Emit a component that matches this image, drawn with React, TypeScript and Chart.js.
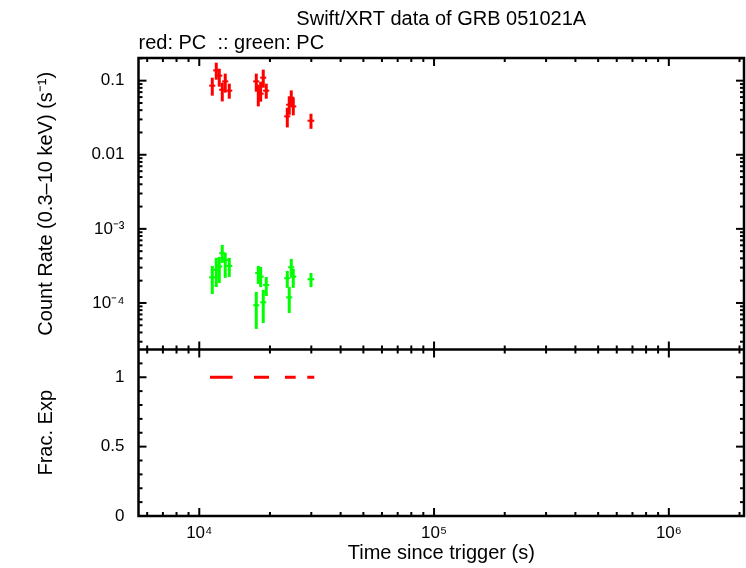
import { useEffect, useRef } from 'react';
import { Chart, registerables } from 'chart.js';

Chart.register(...registerables);

const chartTitle = 'Swift/XRT data of GRB 051021A';
const chartSubtitle = 'red: PC  :: green: PC';
const xTitle = 'Time since trigger (s)';
const yTopTitle = 'Count Rate (0.3–10 keV) (s⁻¹)';
const yBottomTitle = 'Frac. Exp';

const xTickValues = [1e4, 1e5, 1e6];
const xTickLabels = ['10⁴', '10⁵', '10⁶'];
const yTopTickValues = [1e-4, 1e-3, 0.01, 0.1];
const yTopTickLabels = ['10⁻⁴', '10⁻³', '0.01', '0.1'];
const yBottomTickValues = [0, 0.5, 1];
const yBottomTickLabels = ['0', '0.5', '1'];

const xRange = [5510, 2.09e6];
const yTopRange = [2.355e-5, 0.2023];
const yBottomRange = [0, 1.2];

// time bins (s) and half-widths
const binTime = [11360, 11815, 12167, 12530, 12900, 13420, 17490, 17840, 18260, 18730, 19290, 23710, 24170, 24650, 25140, 29910];
const binTimeErr = [340, 355, 365, 375, 385, 400, 525, 535, 550, 560, 580, 710, 725, 740, 755, 990];

// red: PC
const redRate = [0.0856, 0.1377, 0.117, 0.0755, 0.0978, 0.0733, 0.0978, 0.0755, 0.0667, 0.1097, 0.0733, 0.033, 0.0474, 0.0589, 0.045, 0.0288];
const redRateLo = [0.0627, 0.1031, 0.083, 0.0525, 0.0689, 0.0571, 0.071, 0.045, 0.052, 0.0804, 0.0571, 0.0234, 0.0347, 0.045, 0.034, 0.0224];
const redRateHi = [0.1097, 0.175, 0.145, 0.094, 0.1245, 0.0911, 0.1245, 0.0883, 0.0969, 0.141, 0.0911, 0.0431, 0.0614, 0.074, 0.0589, 0.0358];

// green: PC
const greenRate = [2.22e-4, 2.79e-4, 3.1e-4, 4.7e-4, 3.81e-4, 3.16e-4, 9.31e-5, 2.54e-4, 2.26e-4, 1.02e-4, 1.75e-4, 2.16e-4, 1.19e-4, 3.03e-4, 2.26e-4, 2.09e-4];
const greenRateLo = [1.32e-4, 1.64e-4, 1.86e-4, 3.47e-4, 2.18e-4, 2.24e-4, 4.46e-5, 1.81e-4, 1.64e-4, 5.37e-5, 1.24e-4, 1.6e-4, 7.33e-5, 2.32e-4, 1.6e-4, 1.64e-4];
const greenRateHi = [3.16e-4, 4.06e-4, 4.19e-4, 6.08e-4, 4.74e-4, 4.06e-4, 1.41e-4, 3.16e-4, 3.06e-4, 1.5e-4, 2.24e-4, 2.7e-4, 1.64e-4, 3.93e-4, 2.88e-4, 2.54e-4];

// fractional exposure
const fracStart = [11110, 17100, 23170, 28840];
const fracEnd = [13870, 19810, 25740, 30890];
const fracValue = [1, 1, 1, 1];

const FONT = "'Liberation Sans', Arial, sans-serif";

const errorBarPlugin = {
  id: 'errorBars',
  afterDatasetsDraw(chart: any) {
    const ctx = chart.ctx;
    const xs = chart.scales.x;
    chart.data.datasets.forEach((ds: any) => {
      const ys = chart.scales[ds.yAxisID];
      ctx.save();
      ctx.strokeStyle = ds.borderColor;
      ctx.lineCap = 'butt';
      ds.data.forEach((p: any) => {
        const y = ys.getPixelForValue(p.y);
        const x0 = xs.getPixelForValue(p.xMin);
        const x1 = xs.getPixelForValue(p.xMax);
        ctx.lineWidth = ds.hWidth;
        ctx.beginPath();
        ctx.moveTo(x0, y);
        ctx.lineTo(x1, y);
        ctx.stroke();
        if (p.yMin != null) {
          const x = xs.getPixelForValue(p.x);
          ctx.lineWidth = 3;
          ctx.beginPath();
          ctx.moveTo(x, ys.getPixelForValue(p.yMin));
          ctx.lineTo(x, ys.getPixelForValue(p.yMax));
          ctx.stroke();
        }
      });
      ctx.restore();
    });
  },
};

const frameTicksPlugin = {
  id: 'frameTicks',
  afterDraw(chart: any) {
    const ctx = chart.ctx;
    const ca = chart.chartArea;
    const xs = chart.scales.x;
    const yt = chart.scales.y;
    const yb = chart.scales.yf;
    const mid = yt.bottom;
    const MAJ = 8;
    const MIN = 4;
    const seg = (a: number, b: number, c: number, d: number) => {
      ctx.beginPath();
      ctx.moveTo(a, b);
      ctx.lineTo(c, d);
      ctx.stroke();
    };
    ctx.save();
    ctx.strokeStyle = '#000';
    ctx.lineWidth = 2;
    for (let d = 3; d <= 6; d++) {
      for (let m = 1; m <= 9; m++) {
        const v = m * Math.pow(10, d);
        if (v <= xs.min || v >= xs.max) continue;
        const px = xs.getPixelForValue(v);
        const L = m === 1 ? MAJ : MIN;
        seg(px, ca.top, px, ca.top + L);
        seg(px, mid, px, mid - L);
        seg(px, mid, px, mid + L);
        seg(px, ca.bottom, px, ca.bottom - L);
      }
    }
    for (let d = -6; d <= 0; d++) {
      for (let m = 1; m <= 9; m++) {
        const v = m * Math.pow(10, d);
        if (v <= yt.min || v >= yt.max) continue;
        const py = yt.getPixelForValue(v);
        const L = m === 1 ? MAJ : MIN;
        seg(ca.left, py, ca.left + L, py);
        seg(ca.right, py, ca.right - L, py);
      }
    }
    for (let k = 1; k < 12; k++) {
      const py = yb.getPixelForValue(k / 10);
      const L = k % 5 === 0 ? MAJ : MIN;
      seg(ca.left, py, ca.left + L, py);
      seg(ca.right, py, ca.right - L, py);
    }
    ctx.lineWidth = 2.5;
    ctx.strokeRect(ca.left, ca.top, ca.right - ca.left, ca.bottom - ca.top);
    seg(ca.left, mid, ca.right, mid);
    ctx.restore();
  },
};

export default function App() {
  const ref = useRef<HTMLCanvasElement | null>(null);

  useEffect(() => {
    if (!ref.current) return;
    Chart.defaults.font.family = FONT;
    const redPts = binTime.map((t, i) => ({ x: t, y: redRate[i], xMin: t - binTimeErr[i], xMax: t + binTimeErr[i], yMin: redRateLo[i], yMax: redRateHi[i] }));
    const greenPts = binTime.map((t, i) => ({ x: t, y: greenRate[i], xMin: t - binTimeErr[i], xMax: t + binTimeErr[i], yMin: greenRateLo[i], yMax: greenRateHi[i] }));
    const fracPts = fracStart.map((s, i) => ({ x: Math.sqrt(s * fracEnd[i]), y: fracValue[i], xMin: s, xMax: fracEnd[i] }));

    const tickFont = { family: FONT, size: 17 };
    const titleFont = { family: FONT, size: 20, weight: 'normal' as const };

    const chart = new Chart(ref.current, {
      type: 'scatter',
      data: {
        datasets: [
          { label: 'red', data: redPts, yAxisID: 'y', borderColor: '#ff0000', backgroundColor: '#ff0000', pointRadius: 0, hWidth: 2 } as any,
          { label: 'green', data: greenPts, yAxisID: 'y', borderColor: '#00ff00', backgroundColor: '#00ff00', pointRadius: 0, hWidth: 2 } as any,
          { label: 'frac', data: fracPts, yAxisID: 'yf', borderColor: '#ff0000', backgroundColor: '#ff0000', pointRadius: 0, hWidth: 3 } as any,
        ],
      },
      options: {
        animation: false,
        responsive: false,
        maintainAspectRatio: false,
        layout: { padding: { left: 0, right: 2, top: 0, bottom: 0 } },
        plugins: {
          legend: { display: false },
          tooltip: { enabled: false },
          title: { display: true, text: chartTitle, fullSize: false, color: '#000', font: titleFont, padding: { top: 7, bottom: 0 } },
          subtitle: { display: true, text: chartSubtitle, align: 'start', fullSize: false, color: '#000', font: titleFont, padding: { top: 0, bottom: 3 } },
        },
        scales: {
          x: {
            type: 'logarithmic',
            position: 'bottom',
            min: xRange[0],
            max: xRange[1],
            grid: { display: false, drawTicks: false },
            border: { display: false },
            afterBuildTicks: (s: any) => { s.ticks = xTickValues.map((v) => ({ value: v })); },
            ticks: { color: '#000', font: tickFont, padding: 7, maxRotation: 0, autoSkip: false, callback: (_v: any, i: number) => xTickLabels[i] },
            title: { display: true, text: xTitle, color: '#000', font: titleFont, padding: { top: 0, bottom: 3 } },
            afterFit: (s: any) => { s.height = 52; },
          },
          yf: {
            type: 'linear',
            position: 'left',
            stack: 'panels',
            stackWeight: 166.5,
            min: yBottomRange[0],
            max: yBottomRange[1],
            grid: { display: false, drawTicks: false },
            border: { display: false },
            afterBuildTicks: (s: any) => { s.ticks = yBottomTickValues.map((v) => ({ value: v })); },
            ticks: { color: '#000', font: tickFont, padding: 14, autoSkip: false, callback: (_v: any, i: number) => yBottomTickLabels[i] },
            title: { display: true, text: yBottomTitle, color: '#000', font: titleFont, padding: { top: 34.5, bottom: 0 } },
            afterFit: (s: any) => { s.width = 138.5; },
          },
          y: {
            type: 'logarithmic',
            position: 'left',
            stack: 'panels',
            stackWeight: 291.5,
            min: yTopRange[0],
            max: yTopRange[1],
            grid: { display: false, drawTicks: false },
            border: { display: false },
            afterBuildTicks: (s: any) => { s.ticks = yTopTickValues.map((v) => ({ value: v })); },
            ticks: { color: '#000', font: tickFont, padding: 14, autoSkip: false, callback: (_v: any, i: number) => yTopTickLabels[i] },
            title: { display: true, text: yTopTitle, color: '#000', font: titleFont, padding: { top: 34.5, bottom: 0 } },
            afterFit: (s: any) => { s.width = 138.5; },
          },
        },
      } as any,
      plugins: [errorBarPlugin, frameTicksPlugin],
    });
    return () => chart.destroy();
  }, []);

  return (
    <div style={{ position: 'fixed', left: 0, top: 0, width: 746, height: 568, background: '#fff' }}>
      <canvas ref={ref} width={746} height={568} style={{ width: 746, height: 568, display: 'block' }} />
    </div>
  );
}
